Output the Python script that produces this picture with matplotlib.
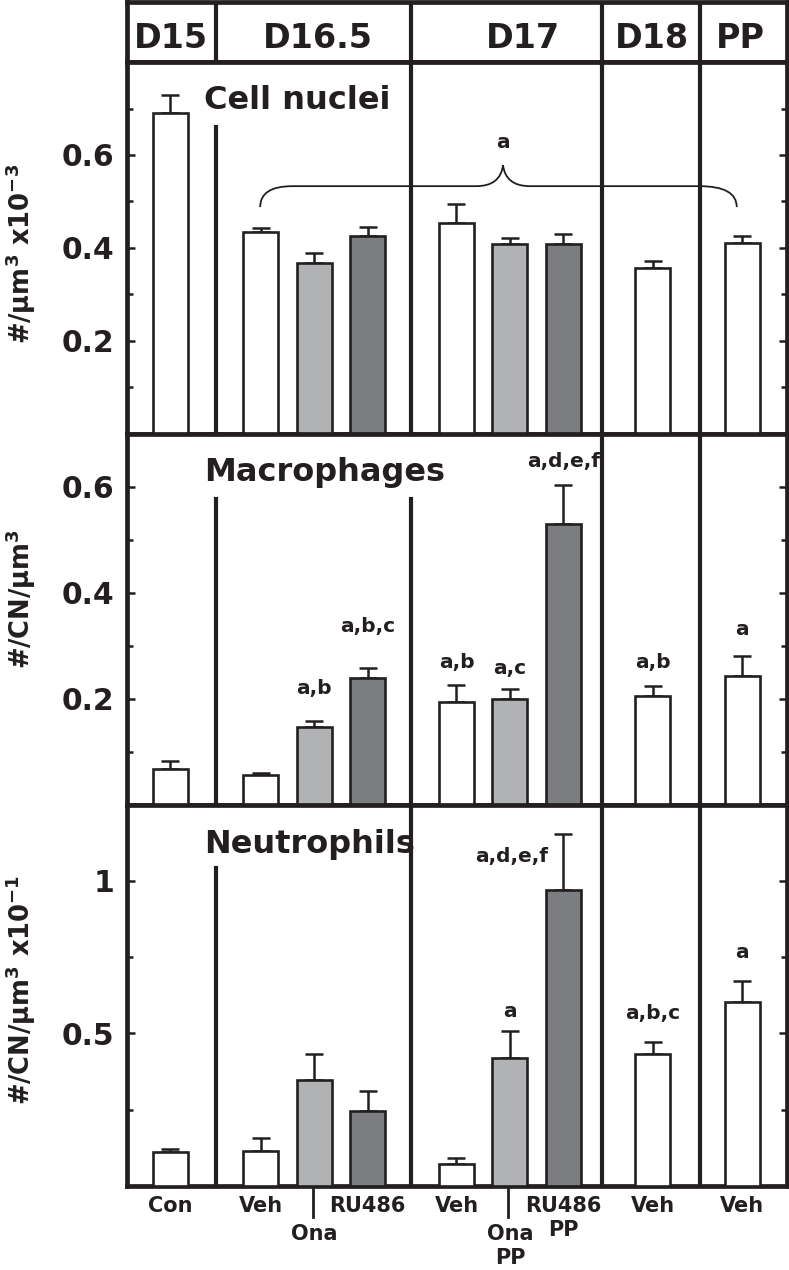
import matplotlib.pyplot as plt
import matplotlib.transforms as mtransforms
from matplotlib.path import Path
from matplotlib.patches import PathPatch

plt.rcParams['font.family'] = ['DejaVu Sans']
plt.rcParams['font.weight'] = 'bold'
plt.rcParams['mathtext.fontset'] = 'custom'
plt.rcParams['mathtext.default'] = 'regular'

ink = '#231f20'
light = '#b1b2b4'
dark = '#7c7d81'

# data
groups = ['D15', 'D16.5', 'D17', 'D18', 'PP']
treatments = ['Con', 'Veh', 'Ona', 'RU486', 'Veh', 'Ona\nPP', 'RU486\nPP', 'Veh', 'Veh']
nuclei = [0.690, 0.434, 0.367, 0.426, 0.453, 0.409, 0.409, 0.358, 0.410]
nuclei_err = [0.040, 0.008, 0.022, 0.020, 0.042, 0.013, 0.021, 0.015, 0.016]
macro = [0.067, 0.056, 0.148, 0.240, 0.195, 0.200, 0.531, 0.206, 0.244]
macro_err = [0.016, 0.005, 0.011, 0.019, 0.032, 0.018, 0.073, 0.018, 0.038]
neutro = [0.111, 0.116, 0.346, 0.245, 0.073, 0.419, 0.968, 0.433, 0.602]
neutro_err = [0.009, 0.042, 0.087, 0.065, 0.018, 0.088, 0.186, 0.038, 0.068]
macro_sig = ['', '', 'a,b', 'a,b,c', 'a,b', 'a,c', 'a,d,e,f', 'a,b', 'a']
neutro_sig = ['', '', '', '', '', 'a', 'a,d,e,f', 'a,b,c', 'a']

# layout
xpos = [0.81, 2.5, 3.5, 4.5, 6.16, 7.16, 8.16, 9.83, 11.5]
fills = ['white', 'white', light, dark, 'white', light, dark, 'white', 'white']
dividers = [1.66, 5.31, 8.88, 10.71]
group_x = [0.82, 3.57, 7.4, 9.82, 11.46]
lowered = [False, False, True, False, False, True, False, False, False]
xmax = 12.33

fig = plt.figure(figsize=(7.89, 12.70), dpi=100)
L, W = 127 / 789, (786.5 - 127) / 789

# header with the gestation days
hax = fig.add_axes([L, 1 - 62 / 1270, W, 60 / 1270])
hax.set_xlim(0, xmax)
hax.set_ylim(0, 1)
hax.set_xticks([])
hax.set_yticks([])
for s in hax.spines.values():
    s.set_linewidth(3.4)
    s.set_color(ink)
for d in dividers:
    hax.axvline(d, color=ink, lw=3)
for g, gx in zip(groups, group_x):
    hax.text(gx, 0.23, g, ha='center', va='baseline', fontsize=24, color=ink)

panels = [
    dict(vals=nuclei, err=nuclei_err, top=62, bot=434, ymax=0.8,
         ticks=[0.2, 0.4, 0.6], minor=[0.1, 0.3, 0.5, 0.7], labels=['0.2', '0.4', '0.6'],
         title='Cell nuclei', ylabel=r'#/µm$^{3}$ x10$^{-3}$', ylab_y=0.80,
         short=[(1.66, 0.826)], sig=None, sig_dy=None),
    dict(vals=macro, err=macro_err, top=434, bot=805, ymax=0.70,
         ticks=[0.2, 0.4, 0.6], minor=[0.1, 0.3, 0.5], labels=['0.2', '0.4', '0.6'],
         title='Macrophages', ylabel=r'#/CN/µm$^{3}$', ylab_y=0.528,
         short=[(1.66, 0.825), (5.31, 0.825)], sig=macro_sig,
         sig_dy=[0, 0, 19, 26, 12, 11, 13, 13, 15]),
    dict(vals=neutro, err=neutro_err, top=805, bot=1186, ymax=1.248,
         ticks=[0.5, 1.0], minor=[0.25, 0.75], labels=['0.5', '1'],
         title='Neutrophils', ylabel=r'#/CN/µm$^{3}$ x10$^{-1}$', ylab_y=0.2205,
         short=[(1.66, 0.835)], sig=neutro_sig,
         sig_dy=[0, 0, 0, 0, 0, 10, 0, 16.5, 17]),
]

axes = []
for p in panels:
    ax = fig.add_axes([L, 1 - p['bot'] / 1270, W, (p['bot'] - p['top']) / 1270])
    axes.append(ax)
    ax.set_xlim(0, xmax)
    ax.set_ylim(0, p['ymax'])
    for s in ax.spines.values():
        s.set_linewidth(3.4)
        s.set_color(ink)
    ax.bar(xpos, p['vals'], width=0.654, color=fills, edgecolor=ink, linewidth=1.9, zorder=3)
    ax.errorbar(xpos, p['vals'], yerr=[[0] * len(xpos), p['err']], fmt='none',
                ecolor=ink, elinewidth=1.8, capsize=6.5, capthick=1.8, zorder=2)
    ax.set_xticks([])
    ax.set_yticks(p['ticks'])
    ax.set_yticklabels(p['labels'])
    ax.set_yticks(p['minor'], minor=True)
    ax.tick_params(axis='y', which='both', direction='in', left=True, right=True,
                   width=1.8, color=ink, labelsize=21.5, labelcolor=ink, pad=9)
    ax.tick_params(axis='y', which='major', length=6)
    ax.tick_params(axis='y', which='minor', length=4)

    # group separators
    for d in dividers:
        full = True
        for sx, frac in p['short']:
            if sx == d:
                ax.axvline(d, ymin=0, ymax=frac, color=ink, lw=3, zorder=4)
                full = False
        if full:
            ax.axvline(d, color=ink, lw=3, zorder=4)

    ax.text(0.117, 0.873, p['title'], transform=ax.transAxes, ha='left',
            va='baseline', fontsize=23, color=ink)
    fig.text(0.026, p['ylab_y'], p['ylabel'], rotation=90, ha='center', va='center',
             fontsize=18.5, color=ink)

    if p['sig'] is not None:
        for x, v, e, s, dy in zip(xpos, p['vals'], p['err'], p['sig'], p['sig_dy']):
            if s == '' or dy == 0:
                continue
            ax.annotate(s, xy=(x, v + e), xytext=(0, dy), textcoords='offset points',
                        ha='center', va='baseline', fontsize=14.5, color=ink)

# the long label that sits beside the RU486 PP error bar in the neutrophil panel
axes[2].annotate(neutro_sig[6], xy=(xpos[6], neutro[6] + neutro_err[6]), xytext=(-11, -20.5),
                 textcoords='offset points', ha='right', va='baseline', fontsize=14.5, color=ink)

# brace over the nuclei bars
ax = axes[0]
xl, xr, xm = 2.49, 11.40, 7.03
yh, ye, yt = 0.533, 0.488, 0.578
verts = [(xl, ye), (xl, yh), (xl + 0.6, yh), (xm - 0.5, yh), (xm - 0.05, yh), (xm, yt),
         (xm, yt), (xm + 0.05, yh), (xm + 0.5, yh), (xr - 0.7, yh), (xr, yh), (xr, ye)]
codes = [Path.MOVETO, Path.CURVE3, Path.CURVE3, Path.LINETO, Path.CURVE3, Path.CURVE3,
         Path.MOVETO, Path.CURVE3, Path.CURVE3, Path.LINETO, Path.CURVE3, Path.CURVE3]
ax.add_patch(PathPatch(Path(verts, codes), facecolor='none', edgecolor=ink, lw=1.3, zorder=5))
ax.text(xm, 0.615, 'a', ha='center', va='baseline', fontsize=14.5, color=ink)

# treatment labels under the bottom panel
ax = axes[2]
trans = mtransforms.blended_transform_factory(ax.transData, ax.transAxes)
for x, lab, low in zip(xpos, treatments, lowered):
    if low:
        ax.text(x, -0.0997, lab, transform=trans, ha='center', va='top', fontsize=15,
                color=ink, linespacing=1.25)
        ax.plot([x - 0.03, x - 0.03], [0, -0.081], transform=trans, color=ink, lw=2,
                clip_on=False)
    else:
        ax.text(x, -0.026, lab, transform=trans, ha='center', va='top', fontsize=15,
                color=ink, linespacing=1.25)

fig.savefig('out.png', dpi=100)
